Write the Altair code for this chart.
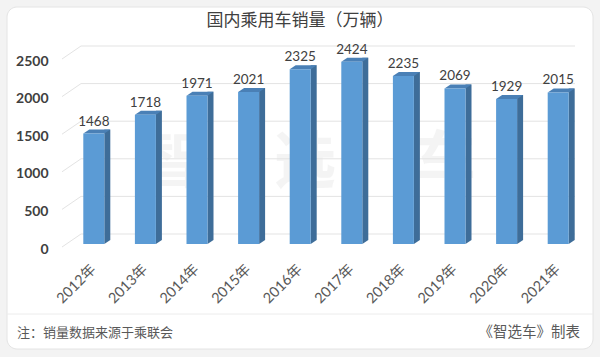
import altair as alt
import pandas as pd

# ---- data ----
years = ["2012年", "2013年", "2014年", "2015年", "2016年",
         "2017年", "2018年", "2019年", "2020年", "2021年"]
sales = [1468, 1718, 1971, 2021, 2325, 2424, 2235, 2069, 1929, 2015]
y_ticks = [0, 500, 1000, 1500, 2000, 2500]
title_text = "国内乘用车销量（万辆）"
note_left = "注：销量数据来源于乘联会"
note_right = "《智选车》制表"
watermark = ["智", "选", "车"]

df = pd.DataFrame({"year": years, "sales": sales})
grid_df = pd.DataFrame({"sales": y_ticks})
one = alt.Data(values=[{}])

FRONT = "#5b9bd5"
SIDE = "#3e6d99"
TOP = "#4a80b6"
CJK = "Noto Sans CJK SC"
NUM = "Lato, 'Noto Sans CJK SC', sans-serif"

W, H = 516, 188

yscale = alt.Scale(domain=[0, 2500], nice=False, zero=True)
xscale = alt.Scale(domain=years, paddingInner=0.6, paddingOuter=0.3)

x_axis = alt.Axis(
    title=None, labelAngle=315, labelAlign="right", labelBaseline="middle",
    labelPadding=23, domain=False, ticks=False, labelFontSize=14.5,
    labelColor="#595959", labelFont=NUM, zindex=1)
y_axis = alt.Axis(
    title=None, values=y_ticks, format="d", grid=False, domain=False, ticks=False,
    labelPadding=20, labelFontSize=14, labelFontWeight="bold",
    labelColor="#404040", labelFont=NUM, labelOffset=5, zindex=1)

X = alt.X("year:N", scale=xscale, sort=years, axis=x_axis)
Y = alt.Y("sales:Q", scale=yscale, axis=y_axis)

# ---- decorations ----
card = alt.Chart(one).mark_rect(
    fill="white", stroke="#e4e4e4", strokeWidth=1, cornerRadius=10
).encode(x=alt.value(-61), x2=alt.value(525), y=alt.value(-49), y2=alt.value(293))

title = alt.Chart(one).mark_text(
    fontSize=17, color="#404040", font=CJK, baseline="middle", align="center"
).encode(x=alt.value(232), y=alt.value(-35), text=alt.value(title_text))

footer_line = alt.Chart(one).mark_rule(color="#ececec", strokeWidth=1).encode(
    x=alt.value(-61), x2=alt.value(525), y=alt.value(258))

foot_l = alt.Chart(one).mark_text(
    fontSize=13, color="#595959", font=CJK, align="left", baseline="middle"
).encode(x=alt.value(-51), y=alt.value(277), text=alt.value(note_left))

foot_r = alt.Chart(one).mark_text(
    fontSize=14.5, color="#595959", font=CJK, align="right", baseline="middle"
).encode(x=alt.value(512), y=alt.value(277), text=alt.value(note_right))

wm_layers = []
for ch, px in zip(watermark, [104, 237, 377]):
    wm_layers.append(
        alt.Chart(one).mark_text(
            fontSize=62, fontWeight="bold", color="#000000", opacity=0.04,
            font=CJK, baseline="middle", align="center"
        ).encode(x=alt.value(px), y=alt.value(108), text=alt.value(ch))
    )

# ---- 3D-style gridlines (back wall + side wall) ----
grid_back = alt.Chart(grid_df).mark_rule(color="#e3e3e3", strokeWidth=1, yOffset=-10).encode(
    y=Y, x=alt.value(13), x2=alt.value(507))

grid_side = alt.Chart(grid_df).mark_rule(
    color="#e3e3e3", strokeWidth=1, yOffset=3, y2Offset=-10
).encode(y=Y, y2=alt.Y2("sales"), x=alt.value(-6), x2=alt.value(13))

# ---- bars ----
base = alt.Chart(df)

side = base.mark_bar(size=6, xOffset=13.5, x2Offset=13.5, yOffset=-4, y2Offset=-4,
                     color=SIDE).encode(x=X, y=Y)

bottom_tri = base.mark_point(
    shape="M 10.5 0 L 10.5 -4 L 16.5 -4 Z", size=4, filled=True,
    color=SIDE, opacity=1, strokeWidth=0
).encode(x=X, y=alt.value(H))

top_face = base.mark_point(
    shape="M -10.5 0 L 10.5 0 L 16.5 -4 L -4.5 -4 Z", size=4, filled=True,
    color=TOP, opacity=1, strokeWidth=0
).encode(x=X, y=Y)

front = base.mark_bar(size=21, color=FRONT).encode(x=X, y=Y)

labels = base.mark_text(
    baseline="bottom", dy=-5, fontSize=13.5, color="#404040", font=NUM
).encode(x=X, y=Y, text=alt.Text("sales:Q"))

chart = alt.layer(
    card, *wm_layers, grid_back, grid_side, side, bottom_tri, top_face, front,
    labels, title, footer_line, foot_l, foot_r
).properties(
    width=W, height=H,
    background="#f3f3f3",
    padding={"left": 68, "top": 56, "right": 16, "bottom": 113},
    autosize=alt.AutoSizeParams(type="none"),
).configure_view(stroke=None)

chart.save("out.html", embed_options={"renderer": "svg", "actions": False})
